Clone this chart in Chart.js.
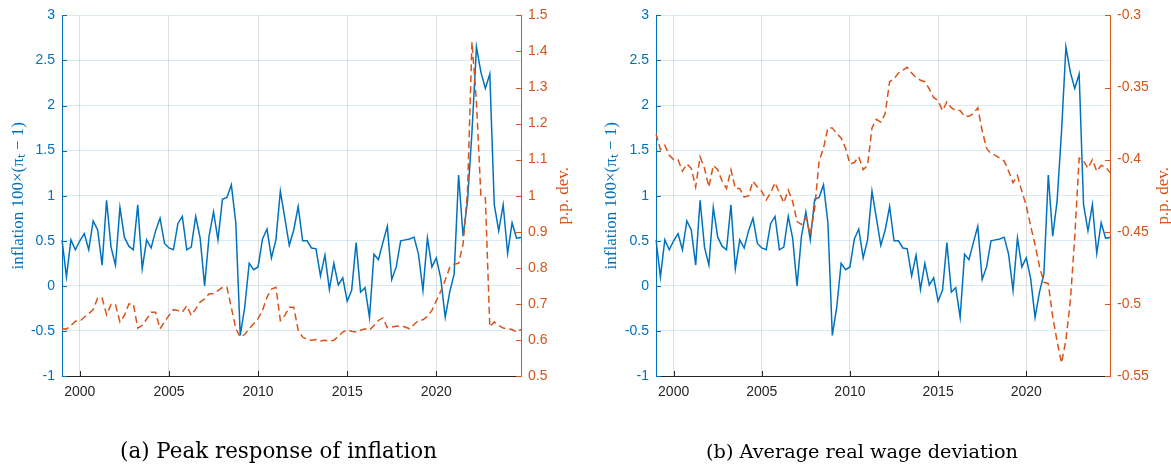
<!DOCTYPE html>
<html>
<head>
<meta charset="utf-8">
<script src="https://cdn.jsdelivr.net/npm/chart.js@4.4.1/dist/chart.umd.min.js"></script>
<style>
  html, body { margin: 0; padding: 0; background: #fff; overflow: hidden; }
  canvas { position: absolute; top: 0; }
  #panelA { left: 0; }
  #panelB { left: 585px; }
</style>
</head>
<body>
<canvas id="panelA" width="585" height="465"></canvas>
<canvas id="panelB" width="600" height="465"></canvas>
<script>
// quarterly sample, 1999Q1 - 2024Q4
const years = [1999, 2000, 2001, 2002, 2003, 2004, 2005, 2006, 2007, 2008, 2009, 2010, 2011,
  2012, 2013, 2014, 2015, 2016, 2017, 2018, 2019, 2020, 2021, 2022, 2023, 2024];
const quarterNames = ['Q1', 'Q2', 'Q3', 'Q4'];
const xTickYears = [2000, 2005, 2010, 2015, 2020];

const inflationTicks = [-1, -0.5, 0, 0.5, 1, 1.5, 2, 2.5, 3];
const peakTicks = [0.5, 0.6, 0.7, 0.8, 0.9, 1, 1.1, 1.2, 1.3, 1.4, 1.5];
const wageTicks = [-0.55, -0.5, -0.45, -0.4, -0.35, -0.3];

// inflation 100 x (pi_t - 1)
const inflation = [
  0.51, 0.10, 0.51, 0.40, 0.50, 0.58, 0.40, 0.72, 0.62, 0.23,
  0.95, 0.43, 0.23, 0.87, 0.54, 0.44, 0.40, 0.90, 0.19, 0.51,
  0.42, 0.61, 0.75, 0.47, 0.42, 0.40, 0.69, 0.77, 0.40, 0.43,
  0.77, 0.53, 0.00, 0.55, 0.82, 0.51, 0.96, 0.98, 1.12, 0.70,
  -0.55, -0.24, 0.25, 0.18, 0.21, 0.52, 0.63, 0.31, 0.51, 1.05,
  0.75, 0.45, 0.62, 0.88, 0.50, 0.50, 0.42, 0.41, 0.11, 0.34,
  -0.04, 0.25, 0.01, 0.09, -0.17, -0.05, 0.48, -0.07, -0.02, -0.35,
  0.35, 0.29, 0.48, 0.66, 0.07, 0.21, 0.50, 0.51, 0.52, 0.54,
  0.35, -0.05, 0.53, 0.21, 0.31, 0.08, -0.35, -0.07, 0.13, 1.23,
  0.55, 0.94, 1.71, 2.65, 2.37, 2.19, 2.35, 0.90, 0.61, 0.90,
  0.36, 0.70, 0.53, 0.535
];

// (a) peak response of inflation, p.p. dev.
const peakResponse = [
  0.631, 0.630, 0.640, 0.652, 0.652, 0.663, 0.673, 0.684, 0.716, 0.716,
  0.670, 0.698, 0.698, 0.650, 0.668, 0.700, 0.700, 0.633, 0.640, 0.658,
  0.677, 0.677, 0.631, 0.650, 0.668, 0.684, 0.682, 0.677, 0.695, 0.668,
  0.686, 0.705, 0.714, 0.728, 0.728, 0.737, 0.746, 0.746, 0.690, 0.631,
  0.608, 0.615, 0.631, 0.645, 0.659, 0.682, 0.718, 0.741, 0.746, 0.654,
  0.668, 0.691, 0.691, 0.627, 0.608, 0.601, 0.599, 0.601, 0.597, 0.599,
  0.597, 0.599, 0.610, 0.622, 0.628, 0.624, 0.622, 0.627, 0.631, 0.627,
  0.640, 0.654, 0.661, 0.634, 0.636, 0.638, 0.638, 0.636, 0.631, 0.643,
  0.654, 0.656, 0.665, 0.682, 0.709, 0.735, 0.766, 0.801, 0.810, 0.813,
  0.866, 1.012, 1.426, 1.260, 1.000, 0.994, 0.636, 0.650, 0.640, 0.633,
  0.631, 0.629, 0.622, 0.629
];

// (b) average real wage deviation, p.p. dev.
const realWage = [
  -0.382, -0.393, -0.390, -0.397, -0.400, -0.400, -0.408, -0.403, -0.406, -0.419,
  -0.398, -0.406, -0.419, -0.404, -0.407, -0.415, -0.420, -0.407, -0.420, -0.420,
  -0.426, -0.425, -0.415, -0.419, -0.422, -0.428, -0.423, -0.416, -0.423, -0.430,
  -0.421, -0.429, -0.443, -0.445, -0.440, -0.452, -0.434, -0.401, -0.392, -0.378,
  -0.378, -0.382, -0.385, -0.392, -0.403, -0.402, -0.398, -0.407, -0.404, -0.378,
  -0.372, -0.374, -0.368, -0.346, -0.344, -0.340, -0.338, -0.336, -0.340, -0.343,
  -0.345, -0.346, -0.351, -0.357, -0.359, -0.366, -0.360, -0.364, -0.366, -0.366,
  -0.370, -0.370, -0.368, -0.364, -0.380, -0.392, -0.396, -0.397, -0.399, -0.401,
  -0.408, -0.416, -0.411, -0.422, -0.432, -0.446, -0.459, -0.474, -0.485, -0.486,
  -0.509, -0.526, -0.541, -0.525, -0.498, -0.454, -0.399, -0.401, -0.406, -0.400,
  -0.408, -0.404, -0.405, -0.409
];

const BLUE = '#0072BD';
const ORANGE = '#D95319';
const AXIS = '#262626';
const labels = years.flatMap(y => quarterNames.map(q => y + q));

// inward tick marks, rotated axis titles and the subfigure caption
const decorations = {
  id: 'decorations',
  afterDraw(chart, args, o) {
    const { ctx, chartArea: a, scales } = chart;
    ctx.save();
    ctx.lineWidth = 1;
    const tick = (color, pts) => {
      ctx.strokeStyle = color;
      pts.forEach(p => {
        ctx.beginPath();
        ctx.moveTo(p[0], p[1]);
        ctx.lineTo(p[2], p[3]);
        ctx.stroke();
      });
    };
    tick(BLUE, scales.y.ticks.map(t => {
      const y = Math.round(scales.y.getPixelForValue(t.value)) + 0.5;
      return [a.left, y, a.left + 5, y];
    }));
    tick(ORANGE, scales.y2.ticks.map(t => {
      const y = Math.round(scales.y2.getPixelForValue(t.value)) + 0.5;
      return [a.right, y, a.right - 5, y];
    }));
    tick(AXIS, scales.x.ticks.map(t => {
      const x = Math.round(scales.x.getPixelForValue(t.value)) + 0.5;
      return [x, a.bottom, x, a.bottom - 5];
    }));

    const midY = (a.top + a.bottom) / 2;
    ctx.font = '17px "Liberation Serif"';
    ctx.textAlign = 'center';
    ctx.textBaseline = 'middle';
    [[o.leftTitle, o.leftTitleX, BLUE], [o.rightTitle, o.rightTitleX, ORANGE]].forEach(([text, x, color]) => {
      ctx.save();
      ctx.translate(x, midY);
      ctx.rotate(-Math.PI / 2);
      ctx.fillStyle = color;
      ctx.fillText(text, 0, 0);
      ctx.restore();
    });

    // caption fitted to the width it has in the figure
    ctx.font = '20px "DejaVu Serif"';
    const size = 20 * o.captionWidth / ctx.measureText(o.caption).width;
    ctx.font = size.toFixed(2) + 'px "DejaVu Serif"';
    ctx.fillStyle = '#000';
    ctx.textBaseline = 'alphabetic';
    ctx.fillText(o.caption, o.captionX, 458);
    ctx.restore();
  }
};

function makePanel(id, p) {
  new Chart(document.getElementById(id), {
    type: 'line',
    data: {
      labels: labels,
      datasets: [
        {
          data: p.rightData,
          yAxisID: 'y2',
          borderColor: ORANGE,
          borderWidth: 1.5,
          borderDash: [7, 4],
          pointRadius: 0,
          tension: 0
        },
        {
          data: inflation,
          yAxisID: 'y',
          borderColor: BLUE,
          borderWidth: 1.5,
          pointRadius: 0,
          tension: 0
        }
      ]
    },
    options: {
      responsive: false,
      animation: false,
      layout: { padding: { top: 13, left: 0, right: 0, bottom: 0 } },
      plugins: {
        legend: { display: false },
        tooltip: { enabled: false },
        decorations: p.deco
      },
      scales: {
        x: {
          type: 'category',
          offset: false,
          grid: { color: 'rgba(38,38,38,0.15)', drawTicks: false },
          border: { color: AXIS, width: 1 },
          ticks: {
            autoSkip: false,
            maxRotation: 0,
            padding: 8,
            color: AXIS,
            font: { family: 'Liberation Sans', size: 14 },
            callback: function (v) { return this.getLabelForValue(v).slice(0, 4); }
          },
          afterBuildTicks: s => { s.ticks = xTickYears.map(y => ({ value: labels.indexOf(y + 'Q1') })); },
          afterFit: s => { s.height = 465 - 376; }
        },
        y: {
          position: 'left',
          min: -1,
          max: 3,
          grid: { color: 'rgba(0,114,189,0.15)', drawTicks: false },
          border: { color: BLUE, width: 1 },
          ticks: {
            padding: 7,
            color: BLUE,
            font: { family: 'Liberation Sans', size: 14 },
            callback: v => String(v)
          },
          afterBuildTicks: s => { s.ticks = inflationTicks.map(v => ({ value: v })); },
          afterFit: s => { s.width = p.leftWidth; }
        },
        y2: {
          position: 'right',
          min: p.rightTicks[0],
          max: p.rightTicks[p.rightTicks.length - 1],
          grid: { drawOnChartArea: false, drawTicks: false },
          border: { color: ORANGE, width: 1 },
          ticks: {
            padding: 7,
            color: ORANGE,
            font: { family: 'Liberation Sans', size: 14 },
            callback: v => String(v)
          },
          afterBuildTicks: s => { s.ticks = p.rightTicks.map(v => ({ value: v })); },
          afterFit: s => { s.width = p.rightWidth; }
        }
      }
    },
    plugins: [decorations]
  });
}

makePanel('panelA', {
  rightData: peakResponse,
  rightTicks: peakTicks,
  leftWidth: 62,
  rightWidth: 64,
  deco: {
    leftTitle: 'inflation 100×(πₜ − 1)',
    rightTitle: 'p.p. dev.',
    leftTitleX: 18.5,
    rightTitleX: 564,
    caption: '(a) Peak response of inflation',
    captionX: 278.5,
    captionWidth: 317
  }
});

makePanel('panelB', {
  rightData: realWage,
  rightTicks: wageTicks,
  leftWidth: 71,
  rightWidth: 75,
  deco: {
    leftTitle: 'inflation 100×(πₜ − 1)',
    rightTitle: 'p.p. dev.',
    leftTitleX: 26.7,
    rightTitleX: 579,
    caption: '(b) Average real wage deviation',
    captionX: 277,
    captionWidth: 312
  }
});
</script>
</body>
</html>
